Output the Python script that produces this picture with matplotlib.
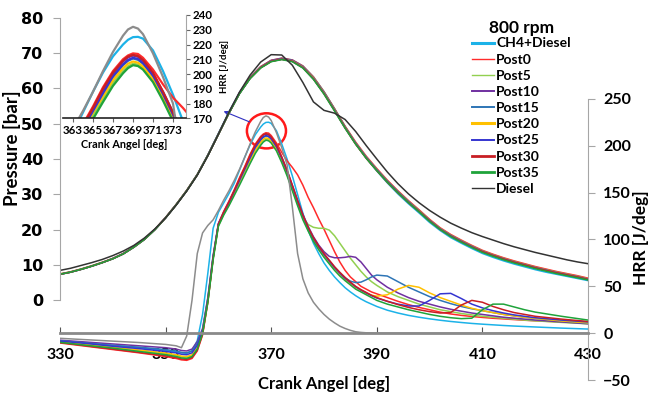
import matplotlib
matplotlib.use('Agg')
import matplotlib.pyplot as plt
from matplotlib.lines import Line2D
from matplotlib.patches import Ellipse

plt.rcParams['font.family'] = ['Lato', 'DejaVu Sans']

# ---------------- data ----------------
names = ['CH4+Diesel', 'Post0', 'Post5', 'Post10', 'Post15',
         'Post20', 'Post25', 'Post30', 'Post35', 'Diesel']
colors = ['#1cb2e8', '#ff2b2b', '#92d050', '#7030a0', '#2e75b6',
          '#ffc000', '#3535d0', '#c81e24', '#1fa33a', '#333333']
hrr_diesel_color = '#8c8c8c'

# Pressure [bar] vs crank angle (every 2 deg)
crank_p = list(range(330, 431, 2))
p_ch4 = [7.3, 7.9, 8.7, 9.6, 10.6, 11.7, 13.1, 15.0, 17.2, 20.0, 23.3, 27.0, 31.0, 35.6, 41.2,
         47.3, 53.4, 58.9, 63.2, 66.2, 68.0, 68.6, 68.1, 66.4, 63.3, 59.1, 54.2, 49.1, 44.4, 40.3,
         36.6, 33.2, 30.1, 27.3, 24.7, 22.0, 19.7, 17.7, 16.1, 14.6, 13.2, 12.1, 11.1, 10.2, 9.4,
         8.6, 7.9, 7.3, 6.7, 6.1, 5.5]
p_post0 = [7.4, 8.0, 8.8, 9.7, 10.7, 11.8, 13.2, 15.1, 17.3, 20.1, 23.4, 27.1, 31.1, 35.6, 41.1,
           47.1, 53.2, 58.8, 63.2, 66.2, 68.0, 68.6, 68.1, 66.4, 63.3, 59.1, 54.3, 49.3, 44.8, 40.8,
           37.3, 34.0, 31.0, 28.2, 25.6, 22.9, 20.5, 18.6, 17.0, 15.5, 14.1, 13.0, 12.0, 11.1, 10.3,
           9.5, 8.8, 8.1, 7.5, 6.9, 6.2]
p_post5 = [7.4, 8.0, 8.8, 9.7, 10.7, 11.8, 13.2, 15.1, 17.3, 20.1, 23.4, 27.1, 31.1, 35.6, 41.0,
           47.0, 53.1, 58.6, 63.0, 66.0, 67.8, 68.4, 67.9, 66.2, 63.1, 59.0, 54.2, 49.2, 44.6, 40.6,
           37.1, 33.8, 30.8, 28.0, 25.4, 22.7, 20.3, 18.4, 16.8, 15.3, 13.9, 12.8, 11.8, 10.9, 10.1,
           9.3, 8.6, 7.9, 7.3, 6.7, 6.0]
p_post10 = [7.3, 7.9, 8.7, 9.6, 10.6, 11.8, 13.2, 15.1, 17.3, 20.1, 23.4, 27.1, 31.1, 35.6, 41.1,
            47.1, 53.1, 58.7, 63.0, 66.0, 67.9, 68.5, 68.0, 66.2, 63.0, 58.9, 54.1, 49.1, 44.5, 40.5,
            37.0, 33.7, 30.7, 27.9, 25.3, 22.6, 20.2, 18.3, 16.7, 15.2, 13.8, 12.7, 11.7, 10.8, 10.0,
            9.2, 8.5, 7.8, 7.2, 6.6, 5.9]
p_post15 = [7.3, 7.9, 8.7, 9.6, 10.6, 11.7, 13.1, 15.0, 17.2, 20.0, 23.3, 27.0, 31.0, 35.5, 41.0,
            47.0, 53.0, 58.6, 62.9, 65.9, 67.8, 68.4, 67.9, 66.1, 62.9, 58.8, 54.0, 49.0, 44.4, 40.4,
            36.9, 33.6, 30.6, 27.8, 25.2, 22.5, 20.1, 18.2, 16.6, 15.1, 13.7, 12.6, 11.6, 10.7, 9.9,
            9.1, 8.4, 7.7, 7.1, 6.5, 5.8]
p_post20 = [7.3, 7.9, 8.7, 9.6, 10.6, 11.7, 13.1, 15.0, 17.2, 20.0, 23.3, 27.0, 31.0, 35.5, 41.0,
            47.0, 53.0, 58.6, 62.9, 65.9, 67.7, 68.3, 67.8, 66.0, 62.8, 58.7, 53.9, 48.9, 44.3, 40.3,
            36.8, 33.5, 30.5, 27.7, 25.2, 22.5, 20.1, 18.2, 16.6, 15.1, 13.7, 12.6, 11.6, 10.7, 9.9,
            9.1, 8.4, 7.7, 7.1, 6.5, 5.8]
p_post25 = [7.3, 7.9, 8.7, 9.6, 10.6, 11.7, 13.1, 15.0, 17.2, 20.0, 23.3, 27.0, 31.0, 35.5, 41.0,
            47.0, 53.0, 58.6, 62.9, 65.9, 67.7, 68.3, 67.7, 65.9, 62.7, 58.6, 53.8, 48.8, 44.3, 40.3,
            36.8, 33.5, 30.5, 27.7, 25.1, 22.5, 20.1, 18.2, 16.6, 15.1, 13.7, 12.6, 11.6, 10.7, 9.9,
            9.1, 8.4, 7.7, 7.1, 6.5, 5.8]
p_post30 = [7.3, 7.9, 8.7, 9.6, 10.6, 11.7, 13.1, 15.0, 17.2, 20.0, 23.3, 27.0, 31.0, 35.5, 41.0,
            47.0, 53.0, 58.6, 62.9, 65.9, 67.7, 68.3, 67.7, 65.9, 62.7, 58.5, 53.7, 48.8, 44.2, 40.2,
            36.7, 33.4, 30.4, 27.6, 25.1, 22.4, 20.0, 18.1, 16.5, 15.0, 13.7, 12.6, 11.6, 10.7, 9.9,
            9.1, 8.4, 7.7, 7.1, 6.5, 5.8]
p_post35 = [7.3, 7.9, 8.7, 9.6, 10.6, 11.7, 13.1, 15.0, 17.2, 20.0, 23.3, 27.0, 31.0, 35.5, 41.0,
            47.0, 53.0, 58.5, 62.8, 65.8, 67.6, 68.2, 67.6, 65.8, 62.6, 58.4, 53.6, 48.7, 44.2, 40.2,
            36.7, 33.4, 30.4, 27.6, 25.0, 22.3, 20.0, 18.0, 16.4, 14.9, 13.5, 12.4, 11.4, 10.5, 9.7,
            8.9, 8.2, 7.5, 6.9, 6.3, 5.7]
p_diesel = [8.4, 9.0, 9.8, 10.6, 11.5, 12.6, 13.9, 15.5, 17.6, 20.2, 23.3, 26.9, 30.9, 35.4, 40.9,
            47.0, 53.3, 59.0, 63.8, 67.5, 69.6, 69.5, 66.6, 61.7, 56.2, 53.8, 53.0, 51.2, 47.8, 43.8,
            40.0, 36.3, 33.0, 30.1, 27.6, 25.4, 23.5, 21.8, 20.4, 19.1, 18.0, 17.0, 16.0, 15.1, 14.3,
            13.5, 12.8, 12.1, 11.4, 10.8, 10.3]

# Heat release rate [J/deg] vs crank angle
crank_h = [330, 335, 340, 345, 350, 352, 353, 354, 355, 356, 357, 358, 359, 360, 361,
           362, 363, 364, 365, 366, 367, 368, 368.5, 369, 369.5, 370, 371, 372, 373, 374,
           375, 376, 377, 378, 379, 380, 381, 382, 383, 384, 385, 386, 387, 388, 389,
           390, 392, 394, 396, 398, 400, 402, 404, 406, 408, 410, 412, 414, 416, 418,
           420, 425, 430]
hrr_ch4 = [-8, -10.5, -13, -15.5, -18.5, -20, -21, -21.5, -19, -8, 20, 64, 112, 129, 139,
           149, 160, 174, 188, 201, 212, 220, 223.2, 225, 225.2, 224, 216, 202, 186, 168,
           148, 128, 110, 96, 85, 75, 67, 60, 54, 48.5, 44, 40, 36.5, 33.5, 31,
           28.5, 24.5, 21.5, 19, 17, 15.3, 13.8, 12.5, 11.4, 10.4, 9.6, 8.9, 8.2, 7.6, 7.1,
           6.6, 5.4, 4.4]
hrr_post0 = [-10.5, -14, -17.5, -21, -25, -27, -28.5, -29, -27, -19, -2, 33, 80, 117, 130,
             141, 153, 166, 178, 191, 202, 210, 212.6, 214, 213.6, 211, 203, 193, 184, 177,
             169, 158, 145, 134, 122, 111, 99, 87, 76, 67, 60, 55, 50, 47, 44,
             42, 38, 34, 30.5, 27.5, 25, 22.5, 20.5, 19, 17.8, 16.8, 15.9, 15.2, 14.5, 13.8,
             13.2, 12, 11]
hrr_post5 = [-9.5, -12.5, -15.5, -18.5, -22, -24, -25.5, -26, -24, -16, 0, 34, 80, 115, 127,
             137, 149, 161, 172, 183, 194, 202, 205.2, 207, 206.4, 204, 196, 184, 170, 154,
             138, 124, 116, 113, 112, 112, 110, 104, 96, 88, 80, 73, 66, 60, 55,
             51, 44, 39, 35, 31, 28, 25, 23, 21, 19.5, 18, 17, 16, 15, 14,
             13.2, 11.5, 10]
hrr_post10 = [-7.5, -9.5, -11.5, -13.5, -15.5, -17, -18.5, -19, -17, -9, 5, 38, 83, 117, 129,
              140, 152, 164, 176, 188, 200, 208.5, 211.3, 212.5, 211.7, 209, 200, 188, 174, 158,
              142, 127, 114, 103, 94, 87, 82, 80.5, 80.5, 81, 82, 81, 76, 69, 62,
              57, 49, 43, 38, 34, 31, 28, 25.5, 23.5, 21.5, 20, 18.5, 17, 16, 15,
              14, 12, 10]
hrr_post15 = [-8, -10.5, -13, -15, -17.5, -19, -20.5, -21, -19, -11, 3, 37, 82, 116, 128,
              139, 151, 163, 175, 187, 198, 206, 209, 210.5, 209.6, 207, 198.5, 186, 172, 156,
              140, 125, 112, 101, 92, 84, 77, 70, 64, 59, 55.5, 54, 54.5, 57, 60,
              62, 61, 55, 49, 44, 39, 35, 31.5, 28.5, 26, 24, 22, 20, 18.5, 17,
              15.8, 13, 10.5]
hrr_post20 = [-9, -12, -15, -18, -21, -23, -24.5, -25, -23, -15, 1, 35, 80, 115, 127,
              138, 150, 162, 174, 185, 196, 204, 207, 208.5, 207.7, 205, 196.5, 184, 170, 154,
              138, 123, 110.5, 100, 91, 83, 76, 69, 63, 57.5, 53, 49, 45.5, 42.5, 40.5,
              39.5, 41, 47, 51, 49, 43, 38, 34, 30, 26.5, 24, 22, 20, 18.5, 17,
              15.8, 13, 11]
hrr_post25 = [-8.5, -11, -14, -16.5, -19.5, -21, -22.5, -23, -21, -13, 2, 36, 81, 116, 128,
              139, 151, 163, 175, 187, 198.5, 206.5, 209.5, 211, 210.2, 207.5, 199, 186.5, 172.5, 156.5,
              140, 125, 112, 101, 92, 84, 77, 70, 64, 58.5, 54, 49.5, 46, 43, 40,
              37.5, 34, 31, 29, 29, 35, 42, 42.5, 37, 31, 27, 24, 21.5, 19.5, 18,
              16.5, 14, 12]
hrr_post30 = [-10, -13.5, -17, -20.5, -24, -26, -27.5, -28, -26, -18, -1, 34, 80, 116, 129,
              140, 152, 165, 177, 190, 201, 209, 211.8, 213, 212.2, 209.5, 201, 188, 174, 158,
              141.5, 126, 113, 102, 93, 85, 78, 71, 65, 59.5, 54.5, 50, 46.5, 43.5, 40.5,
              38, 34, 30.5, 27.5, 25, 23, 21.5, 22, 30, 35, 33, 28.5, 25, 22, 20,
              18, 15, 12.5]
hrr_post35 = [-9.8, -13, -16, -19.5, -23, -25, -26.5, -27, -25, -17, 0, 33, 78, 114, 126,
              136, 147, 158, 169.5, 181, 192, 200.5, 204, 206, 205.4, 203, 194.5, 182, 168, 152,
              136, 121, 109, 98, 89, 81, 74, 67, 61, 56, 51.5, 47, 44, 41, 38,
              35, 31, 28, 25, 22.5, 20, 18, 16.5, 15.5, 16, 25, 31, 31, 28, 25,
              22.5, 18, 14]
hrr_diesel = [-5.5, -7, -8.5, -10, -12, -13.5, -15.5, -3, 35, 85, 107, 115, 121, 131, 142,
              152, 163, 175, 188, 202, 215, 226, 230.2, 232, 230.8, 227, 214, 198, 180, 135,
              85, 58, 43, 33, 26, 20, 15, 11, 7.5, 5, 3, 1.5, 0.8, 0.4, 0.2,
              0, 0, 0, 0, 0, 0, 0, 0, 0, 0, 0, 0, 0, 0, 0,
              0, 0, 0]

pressures = [p_ch4, p_post0, p_post5, p_post10, p_post15,
             p_post20, p_post25, p_post30, p_post35, p_diesel]
hrrs = [hrr_ch4, hrr_post0, hrr_post5, hrr_post10, hrr_post15,
        hrr_post20, hrr_post25, hrr_post30, hrr_post35, hrr_diesel]
legend_lw = [2.2, 1.0, 1.0, 1.4, 1.4, 2.2, 1.4, 2.0, 2.0, 1.0]

# ---------------- figure ----------------
W, H = 649, 404
fig = plt.figure(figsize=(W / 100, H / 100), dpi=100)


# axes box given in pixels (left, top, right, bottom) measured from top-left
def box(x0, y0, x1, y1):
    return [x0 / W, 1 - y1 / H, (x1 - x0) / W, (y1 - y0) / H]


spine_grey = '#a6a6a6'
ax_h = fig.add_axes(box(60, 99, 588, 380))
ax_p = fig.add_axes(box(60, 18, 588, 300))
for ax in [ax_h, ax_p]:
    ax.set_facecolor('none')
    ax.set_xlim(330, 430)
    ax.spines['top'].set_visible(False)

# HRR (right axis, x axis drawn at HRR = 0)
for c, col, y in zip(names, colors, hrrs):
    if c == 'Diesel':
        col = hrr_diesel_color
    ax_h.plot(crank_h, y, color=col, lw=1.1)
ax_h.set_ylim(-50, 250)
ax_h.set_yticks(range(-50, 251, 50))
ax_h.set_xticks(range(330, 431, 20))
ax_h.spines['left'].set_visible(False)
ax_h.spines['right'].set_color(spine_grey)
ax_h.spines['bottom'].set_position(('data', 0))
ax_h.spines['bottom'].set_color('#8a8a8a')
ax_h.spines['bottom'].set_linewidth(2.0)
ax_h.yaxis.tick_right()
ax_h.tick_params(axis='y', direction='out', length=5, color=spine_grey, pad=6,
                 labelsize=11.5)
ax_h.tick_params(axis='x', direction='in', length=4, color='#555555', pad=11,
                 labelsize=11.5)
for lab in ax_h.get_xticklabels() + ax_h.get_yticklabels():
    lab.set_fontweight('bold')
ax_h.set_xlabel('Crank Angel [deg]', fontsize=12, fontweight='bold')
ax_h.xaxis.set_label_coords(0.5, -0.014)
ax_h.xaxis.label.set_va('center')
ax_h.yaxis.set_label_position('right')
ax_h.set_ylabel('HRR [J/deg]', fontsize=12.5, fontweight='bold', rotation=90)
ax_h.yaxis.set_label_coords(1.1, 0.505)
ax_h.yaxis.label.set_va('center')

# zoom marker and arrow
ax_h.add_patch(Ellipse((369.1, 216), 7.4, 37.5, fill=False, edgecolor='#ff1a1a', lw=1.8))
ax_h.annotate('', xy=(360.5, 238), xytext=(366.4, 224.4),
              arrowprops=dict(arrowstyle='-|>', color='#3030c0', lw=0.8, mutation_scale=8))

# Pressure (left axis)
for c, col, y in zip(names, colors, pressures):
    ax_p.plot(crank_p, y, color=col, lw=1.1)
ax_p.set_ylim(0, 80)
ax_p.set_yticks(range(0, 81, 10))
ax_p.xaxis.set_visible(False)
for s in ['right', 'bottom']:
    ax_p.spines[s].set_visible(False)
ax_p.spines['left'].set_color(spine_grey)
ax_p.tick_params(axis='y', direction='out', length=5, color=spine_grey, pad=7)
for lab in ax_p.get_yticklabels():
    lab.set_fontweight('bold')
    lab.set_fontfamily('DejaVu Sans')
    lab.set_fontsize(11.5)
ax_p.set_ylabel('Pressure [bar]', fontsize=13.5, fontweight='bold')
ax_p.yaxis.set_label_coords(-0.09, 0.54)
ax_p.yaxis.label.set_va('center')

handles = [Line2D([], [], color=col, lw=lw) for col, lw in zip(colors, legend_lw)]
leg = ax_p.legend(handles, names, loc='upper left', bbox_to_anchor=(472 / W, 1 - 20 / H),
                  bbox_transform=fig.transFigure, frameon=False, title='800 rpm',
                  prop=dict(weight='bold', size=10),
                  title_fontproperties=dict(weight='bold', size=12.5),
                  handlelength=1.6, handletextpad=0.15, labelspacing=0.3,
                  borderpad=0, borderaxespad=0)
leg._legend_box.sep = 1

# inset: zoom on HRR peak
ax_in = fig.add_axes(box(62.7, 15, 185.7, 118.3))
ax_in.set_facecolor('none')
for c, col, y in zip(names, colors, hrrs):
    if c == 'Diesel':
        col = hrr_diesel_color
    ax_in.plot(crank_h, y, color=col, lw=1.6)
ax_in.set_xlim(361.97, 374.27)
ax_in.set_ylim(170, 240)
ax_in.set_xticks(range(363, 374, 2))
ax_in.set_yticks(range(170, 241, 10))
ax_in.spines['left'].set_visible(False)
ax_in.spines['top'].set_visible(False)
ax_in.spines['right'].set_color(spine_grey)
ax_in.spines['bottom'].set_color('#222222')
ax_in.spines['bottom'].set_linewidth(1.2)
ax_in.yaxis.tick_right()
ax_in.tick_params(axis='both', direction='out', length=3, color='#666666', pad=2,
                  labelsize=8.3)
for lab in ax_in.get_xticklabels() + ax_in.get_yticklabels():
    lab.set_fontweight('bold')
ax_in.set_xlabel('Crank Angel [deg]', fontsize=7.8, fontweight='bold', labelpad=2)
ax_in.yaxis.set_label_position('right')
ax_in.set_ylabel('HRR [J/deg]', fontsize=7, fontweight='bold', labelpad=5)

fig.savefig('out.png', dpi=100)
